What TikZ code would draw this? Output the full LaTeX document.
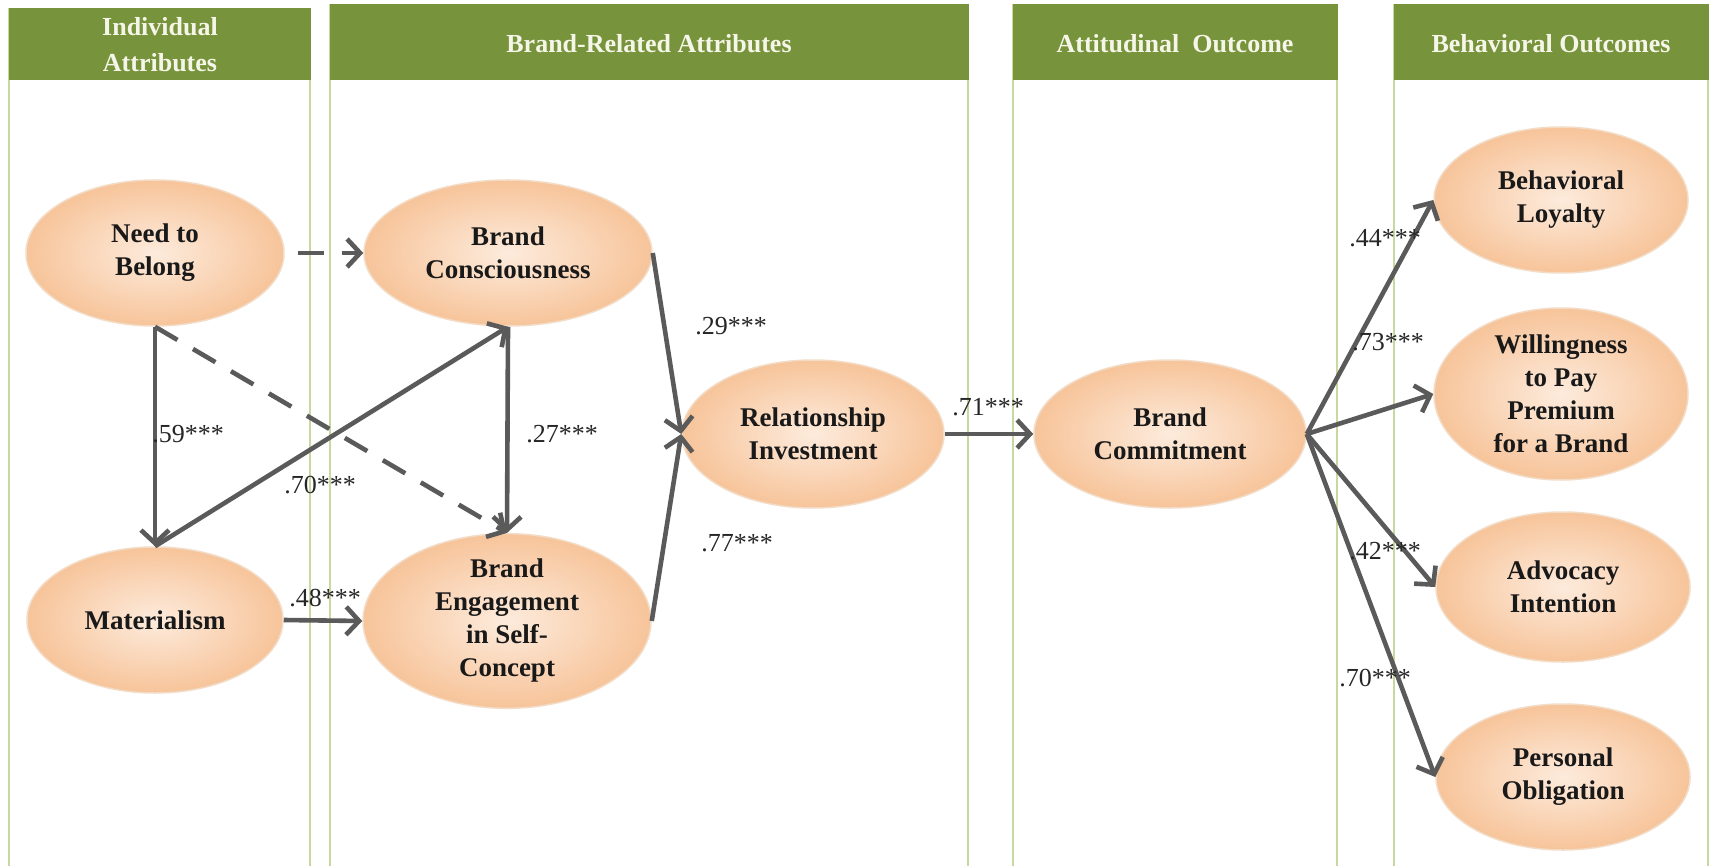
\documentclass[tikz,border=0pt]{standalone}
\usepackage{fontspec}
\setmainfont{Liberation Serif}
\usetikzlibrary{shapes.geometric,arrows.meta}
\definecolor{olive}{HTML}{77933C}
\definecolor{panelline}{HTML}{C7D9A0}
\definecolor{peach}{HTML}{F7C49A}
\definecolor{peachlight}{HTML}{FDEBDC}
\definecolor{peachrim}{HTML}{F3DCC6}
\definecolor{arrowgray}{HTML}{5A5A5A}
\definecolor{headtext}{HTML}{F6F6E8}
\tikzset{
  panel/.style={draw=panelline, line width=2.5pt, fill=white},
  header/.style={fill=olive, draw=olive, line width=1pt},
  headtxt/.style={text=headtext, font=\fontsize{26}{36}\selectfont\bfseries, align=center},
  oval/.style={ellipse, inner sep=0pt, draw=peachrim, line width=1.5pt,
    inner color=peachlight, outer color=peach,
    font=\fontsize{27}{33}\selectfont\bfseries, align=center, text=black!90},
  conn/.style={line width=4.6pt, draw=arrowgray,
    -{Straight Barb[length=13pt,width=28pt]}},
  dconn/.style={conn, dash pattern=on 26pt off 18pt},
  coef/.style={font=\fontsize{26}{30}\selectfont, text=black!85, inner sep=0pt}
}
\begin{document}
\begin{tikzpicture}[x=1pt,y=-1pt]
\useasboundingbox (0,0) rectangle (1715,866);
\fill[white] (0,0) rectangle (1715,866);
% panels
\draw[panel] (9,9) rectangle (310,880);
\draw[panel] (330,5) rectangle (968,880);
\draw[panel] (1013,5) rectangle (1337,880);
\draw[panel] (1394,5) rectangle (1708,880);
\draw[header] (9,9) rectangle (310,80);
\draw[header] (330,5) rectangle (968,80);
\draw[header] (1013,5) rectangle (1337,80);
\draw[header] (1394,5) rectangle (1708,80);
\node[headtxt] (h1) at (160,45) {Individual\\Attributes};
\node[headtxt] (h2) at (649,44) {Brand-Related Attributes};
\node[headtxt] (h3) at (1175,44) {Attitudinal\ \ Outcome};
\node[headtxt] (h4) at (1551,44) {Behavioral Outcomes};
% ovals
\node[oval, minimum width=258pt, minimum height=146pt] (ntb) at (155,253) {Need to\\Belong};
\node[oval, minimum width=288pt, minimum height=146pt] (bc) at (508,253) {Brand\\Consciousness};
\node[oval, minimum width=256pt, minimum height=146pt] (mat) at (155,620) {Materialism};
\node[oval, minimum width=288pt, minimum height=150pt] (be) at (507,621) {Brand\\Engagement\\in Self-\\Concept};
\node[oval, minimum width=262pt, minimum height=148pt] (ri) at (813,434) {Relationship\\Investment};
\node[oval, minimum width=272pt, minimum height=148pt] (bcm) at (1170,434) {Brand\\Commitment};
\node[oval, minimum width=254pt, minimum height=146pt] (bl) at (1561,200) {Behavioral\\Loyalty};
\node[oval, minimum width=254pt, minimum height=172pt] (wtp) at (1561,394) {Willingness\\to Pay\\Premium\\for a Brand};
\node[oval, minimum width=254pt, minimum height=150pt] (ai) at (1563,587) {Advocacy\\Intention};
\node[oval, minimum width=254pt, minimum height=146pt] (po) at (1563,777) {Personal\\Obligation};
% connectors
\draw[dconn, shorten <=13pt] (ntb.east) -- (bc.west);
\draw[dconn] (ntb.south) -- (be.north);
\draw[conn] (ntb.south) -- (mat.north);
\draw[conn] (mat.north) -- (bc.south);
\draw[conn] (bc.south) -- (be.north);
\draw[conn] (mat.east) -- (be.west);
\draw[conn] (bc.east) -- (ri.west);
\draw[conn] (be.east) -- (ri.west);
\draw[conn] (ri.east) -- (bcm.west);
\draw[conn] (bcm.east) -- (bl.west);
\draw[conn] (bcm.east) -- (wtp.west);
\draw[conn] (bcm.east) -- (ai.west);
\draw[conn] (bcm.east) -- (po.west);
% coefficients
\node[coef] (c1) at (188,434) {.59***};
\node[coef] (c2) at (320,485) {.70***};
\node[coef] (c3) at (562,434) {.27***};
\node[coef] (c4) at (325,598) {.48***};
\node[coef] (c5) at (731,326) {.29***};
\node[coef] (c6) at (737,543) {.77***};
\node[coef] (c7) at (988,407) {.71***};
\node[coef] (c8) at (1385,238) {.44***};
\node[coef] (c9) at (1388,342) {.73***};
\node[coef] (c10) at (1385,551) {.42***};
\node[coef] (c11) at (1375,678) {.70***};
\end{tikzpicture}
\end{document}
